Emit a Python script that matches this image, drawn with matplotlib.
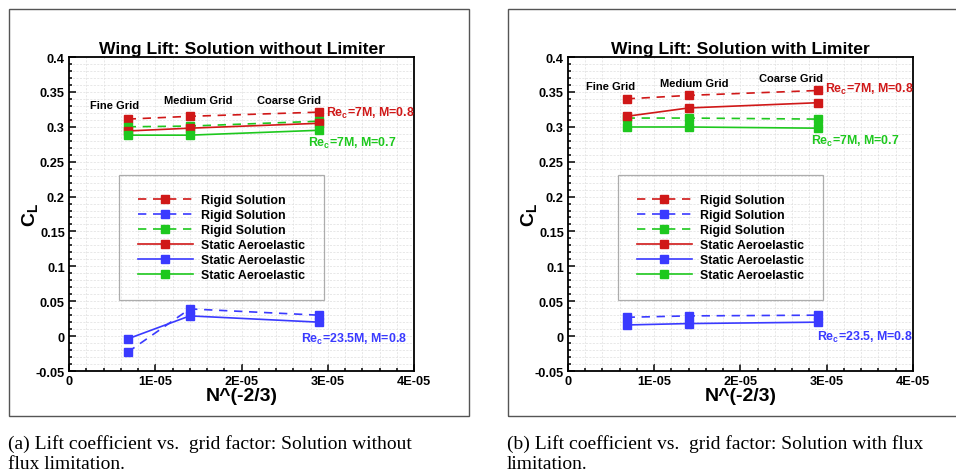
import numpy as np
import matplotlib
matplotlib.use("Agg")
import matplotlib.pyplot as plt
from matplotlib.patches import Rectangle
from matplotlib.ticker import MultipleLocator, FuncFormatter

plt.rcParams['font.family'] = ['Liberation Sans', 'DejaVu Sans']
plt.rcParams['font.weight'] = 'bold'
plt.rcParams['mathtext.fontset'] = 'custom'
plt.rcParams['mathtext.bf'] = 'Liberation Sans:bold'
plt.rcParams['mathtext.rm'] = 'Liberation Sans:bold'

# grid factor N^(-2/3) for fine, medium, coarse grids
x_grid = [6.8e-6, 1.4e-5, 2.9e-5]

# (a) without limiter
rigid_red_a = [0.311, 0.315, 0.321]
rigid_blue_a = [-0.023, 0.039, 0.030]
rigid_green_a = [0.300, 0.301, 0.308]
aero_red_a = [0.294, 0.298, 0.305]
aero_blue_a = [-0.004, 0.029, 0.020]
aero_green_a = [0.288, 0.288, 0.295]

# (b) with limiter
rigid_red_b = [0.340, 0.345, 0.352]
rigid_blue_b = [0.027, 0.029, 0.030]
rigid_green_b = [0.3125, 0.3125, 0.311]
aero_red_b = [0.315, 0.327, 0.3345]
aero_blue_b = [0.016, 0.018, 0.020]
aero_green_b = [0.2997, 0.2997, 0.298]

titles = ["Wing Lift: Solution without Limiter", "Wing Lift: Solution with Limiter"]
captions = [("(a) Lift coefficient vs.  grid factor: Solution without", "flux limitation."),
            ("(b) Lift coefficient vs.  grid factor: Solution with flux", "limitation.")]
grid_names = ["Fine Grid", "Medium Grid", "Coarse Grid"]

RED, BLUE, GREEN = '#d01818', '#3a3aff', '#1ec81e'

fig = plt.figure(figsize=(9.56, 4.77), dpi=100)


def panel(ax, series, title, grid_pos, lbl_pos, blue_label):
    for (y, c, ls, lab) in series:
        kw = dict(dashes=(5, 4)) if ls == '--' else {}
        ax.plot(x_grid, y, color=c, lw=1.2, marker='s', ms=5.8, label=lab, **kw)
    ax.set_xlim(0, 4e-5)
    ax.set_ylim(-0.05, 0.4)
    ax.xaxis.set_major_locator(MultipleLocator(1e-5))
    ax.xaxis.set_minor_locator(MultipleLocator(2e-6))
    ax.yaxis.set_major_locator(MultipleLocator(0.05))
    ax.yaxis.set_minor_locator(MultipleLocator(0.01))
    ax.xaxis.set_major_formatter(FuncFormatter(lambda v, p: "0" if abs(v) < 1e-12 else f"{v:.0E}"))
    ax.yaxis.set_major_formatter(FuncFormatter(lambda v, p: f"{v:g}" if abs(v) > 1e-9 else "0"))
    ax.tick_params(which='both', direction='in', top=False, right=False, width=1.1)
    ax.tick_params(which='major', length=5, labelsize=9.2, pad=3)
    ax.tick_params(which='minor', length=2.5)
    ax.grid(which='both', color='#dedede', lw=0.5, ls=(0, (3, 2)))
    ax.set_axisbelow(True)
    for s in ax.spines.values():
        s.set_linewidth(1.3)
    ax.set_title(title, fontsize=12.6, fontweight='bold', pad=3)
    ax.set_xlabel('N^(-2/3)', fontsize=14, fontweight='bold', labelpad=0)
    ax.set_ylabel(r'$\mathbf{C_L}$', fontsize=14, labelpad=-3)
    for name, (gx, gy) in zip(grid_names, grid_pos):
        ax.text(gx, gy, name, fontsize=8, ha='center', va='center')
    ax.text(*lbl_pos[0], r'$\mathbf{Re_c}$=7M, M=0.8', color=RED, fontsize=8.9, va='center')
    ax.text(*lbl_pos[1], r'$\mathbf{Re_c}$=7M, M=0.7', color=GREEN, fontsize=8.9, va='center')
    ax.text(*lbl_pos[2], blue_label, color=BLUE, fontsize=8.9, va='center')
    leg = ax.legend(loc='upper left', bbox_to_anchor=(0.145, 0.624), borderaxespad=0,
                    fontsize=8.9, handlelength=4.4, handletextpad=0.7, labelspacing=0.24,
                    borderpad=1.55, fancybox=False, facecolor='none', edgecolor='#999999')
    leg.get_frame().set_linewidth(0.9)


axw, axh, axb = 0.3609, 0.6583, 0.2201
lefts = [0.0722, 0.5941]
frames = [(0.0094, 0.4812), (0.5314, 0.5)]

data = [
    [(rigid_red_a, RED, '--', 'Rigid Solution'), (rigid_blue_a, BLUE, '--', 'Rigid Solution'),
     (rigid_green_a, GREEN, '--', 'Rigid Solution'), (aero_red_a, RED, '-', 'Static Aeroelastic'),
     (aero_blue_a, BLUE, '-', 'Static Aeroelastic'), (aero_green_a, GREEN, '-', 'Static Aeroelastic')],
    [(rigid_red_b, RED, '--', 'Rigid Solution'), (rigid_blue_b, BLUE, '--', 'Rigid Solution'),
     (rigid_green_b, GREEN, '--', 'Rigid Solution'), (aero_red_b, RED, '-', 'Static Aeroelastic'),
     (aero_blue_b, BLUE, '-', 'Static Aeroelastic'), (aero_green_b, GREEN, '-', 'Static Aeroelastic')],
]
grid_positions = [
    [(5.33e-6, 0.3312), (1.496e-5, 0.3384), (2.551e-5, 0.3384)],
    [(4.99e-6, 0.3584), (1.461e-5, 0.3627), (2.586e-5, 0.3699)],
]
label_positions = [
    [(2.98e-5, 0.3212), (2.771e-5, 0.2782), (2.69e-5, -0.0027)],
    [(2.98e-5, 0.3556), (2.817e-5, 0.281), (2.887e-5, 0.0002)],
]
blue_labels = [r'$\mathbf{Re_c}$=23.5M, M=0.8', r'$\mathbf{Re_c}$=23.5, M=0.8']

for i in range(2):
    fx, fw = frames[i]
    fig.patches.append(Rectangle((fx, 0.1258), fw, 0.854, transform=fig.transFigure,
                                 fill=False, ec='#555555', lw=1.0))
    ax = fig.add_axes([lefts[i], axb, axw, axh])
    panel(ax, data[i], titles[i], grid_positions[i], label_positions[i], blue_labels[i])
    for line, yb in zip(captions[i], (0.0587, 0.0168)):
        fig.text(fx - 0.001, yb, line, family='Liberation Serif', fontweight='normal',
                 fontsize=14, ha='left', va='baseline')

fig.savefig('out.png', dpi=100)
